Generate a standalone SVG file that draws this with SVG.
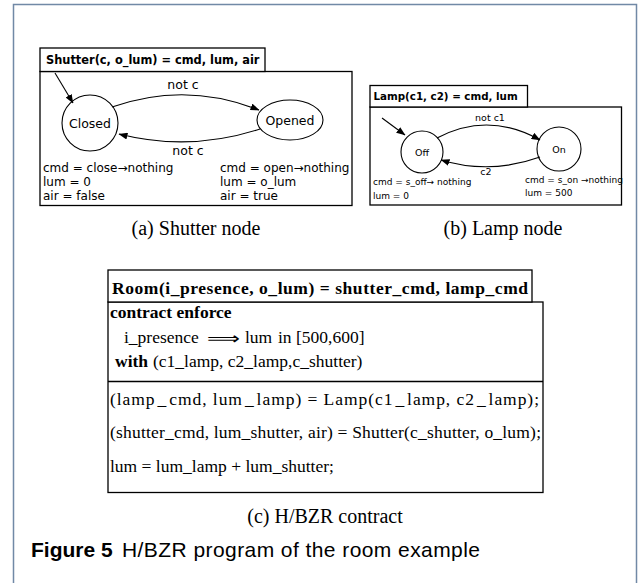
<svg xmlns="http://www.w3.org/2000/svg" width="638" height="583" viewBox="0 0 638 583">
<defs>
<marker id="ah" markerWidth="9" markerHeight="7" refX="8.5" refY="3.5" orient="auto" markerUnits="userSpaceOnUse">
<path d="M0,0 L9,3.5 L0,7 z" fill="#000"/>
</marker>
<style>
.frame{fill:none;stroke:#7189a6;stroke-width:1.5}
.box{fill:#fff;stroke:#000;stroke-width:1.3}
.st{fill:#fff;stroke:#000;stroke-width:1.1}
.edge{fill:none;stroke:#000;stroke-width:1.1;marker-end:url(#ah)}
.sans{font-family:"DejaVu Sans","Liberation Sans",sans-serif;fill:#000}
.sb{font-family:"DejaVu Sans","Liberation Sans",sans-serif;font-weight:bold;fill:#000}
.serif{font-family:"Liberation Serif","Times New Roman",serif;fill:#000;font-size:17.5px}
.cap{font-family:"Liberation Serif","Times New Roman",serif;fill:#000;font-size:20px}
.fig{font-family:"Liberation Sans",Arial,sans-serif;fill:#000;font-size:21px}
</style>
</defs>
<rect class="frame" x="13.5" y="4.5" width="623" height="600"/>

<g id="shutter-node">
<rect class="box" x="40" y="71.5" width="312" height="134"/>
<rect class="box" x="40" y="48" width="225" height="23.5"/>
<text class="sb" x="46" y="64" font-size="11.4">Shutter(c, o_lum) = cmd, lum, air</text>
</g>
<g id="shutter-closed">
<circle class="st" cx="90" cy="123" r="28"/>
<text class="sans" x="90" y="128" font-size="12.5" text-anchor="middle">Closed</text>
</g>
<g id="shutter-opened">
<ellipse class="st" cx="290" cy="120" rx="33" ry="20"/>
<text class="sans" x="290" y="125" font-size="12.5" text-anchor="middle">Opened</text>
</g>
<g id="shutter-labels">
<text class="sans" x="183" y="89" font-size="12.5" text-anchor="middle">not c</text>
<text class="sans" x="188" y="155" font-size="12.5" text-anchor="middle">not c</text>
<text class="sans" x="43" y="172" font-size="12">cmd = close→nothing</text>
<text class="sans" x="43" y="186" font-size="12">lum = 0</text>
<text class="sans" x="43" y="200" font-size="12">air = false</text>
<text class="sans" x="220" y="172" font-size="12">cmd = open→nothing</text>
<text class="sans" x="220" y="186" font-size="12">lum = o_lum</text>
<text class="sans" x="220" y="200" font-size="12">air = true</text>
</g>

<g id="lamp-node">
<rect class="box" x="370" y="107" width="251.5" height="98"/>
<rect class="box" x="370" y="85.5" width="157.5" height="21.5"/>
<text class="sb" x="373.5" y="100" font-size="10.3">Lamp(c1, c2) = cmd, lum</text>
</g>
<g id="lamp-off">
<circle class="st" cx="422" cy="152" r="21"/>
<text class="sans" x="422" y="156" font-size="9.5" text-anchor="middle">Off</text>
</g>
<g id="lamp-on">
<circle class="st" cx="559" cy="149" r="22"/>
<text class="sans" x="559" y="153" font-size="9.5" text-anchor="middle">On</text>
</g>
<g id="lamp-labels">
<text class="sans" x="490" y="121" font-size="9.5" text-anchor="middle">not c1</text>
<text class="sans" x="486" y="175" font-size="9.5" text-anchor="middle">c2</text>
<text class="sans" x="373" y="185" font-size="9">cmd = s_off→ nothing</text>
<text class="sans" x="373" y="199" font-size="9">lum = 0</text>
<text class="sans" x="525" y="183" font-size="9">cmd = s_on →nothing</text>
<text class="sans" x="525" y="196" font-size="9">lum = 500</text>
</g>

<g id="connectors">
<path class="edge" d="M55,73 L73,103"/>
<path class="edge" d="M112,107 Q186,81 259,110"/>
<path class="edge" d="M260,129 Q190,152 119,134"/>
<path class="edge" d="M382,118 L405,135"/>
<path class="edge" d="M437,138 Q488,111 540,140"/>
<path class="edge" d="M540,157 Q490,175 441,160"/>
</g>

<g id="captions-ab">
<text class="cap" x="196" y="235" text-anchor="middle">(a) Shutter node</text>
<text class="cap" x="503" y="235" text-anchor="middle">(b) Lamp node</text>
</g>

<g id="room-contract">
<rect class="box" x="108" y="302" width="435" height="190.5"/>
<line x1="108" y1="381.5" x2="543" y2="381.5" stroke="#000" stroke-width="1.3"/>
<rect class="box" x="108" y="270" width="424" height="32"/>
<text class="serif" x="112" y="294" font-size="18" font-weight="bold" textLength="416" lengthAdjust="spacing">Room(i_presence, o_lum) = shutter_cmd, lamp_cmd</text>
<text class="serif" x="110" y="318" font-weight="bold">contract enforce</text>
<text class="serif" x="124" y="343">i_presence</text>
<text x="207" y="344" font-size="17" font-family="DejaVu Sans, sans-serif" textLength="33" lengthAdjust="spacingAndGlyphs">⟹</text>
<text class="serif" x="245" y="343">lum</text>
<text class="serif" x="278" y="343">in [500,600]</text>
<text class="serif" x="115" y="367" font-weight="bold">with</text>
<text class="serif" x="153" y="367">(c1_lamp, c2_lamp,c_shutter)</text>
<text class="serif" x="110" y="405" textLength="429" lengthAdjust="spacing">(lamp<tspan dx="2">_</tspan><tspan dx="2">cmd,</tspan> lum<tspan dx="2">_</tspan><tspan dx="2">lamp)</tspan> = Lamp(c1<tspan dx="2">_</tspan><tspan dx="2">lamp,</tspan> c2<tspan dx="2">_</tspan><tspan dx="2">lamp);</tspan></text>
<text class="serif" x="110" y="438" textLength="431" lengthAdjust="spacing">(shutter_cmd, lum_shutter, air) = Shutter(c_shutter, o_lum);</text>
<text class="serif" x="110" y="472">lum = lum_lamp + lum_shutter;</text>
</g>

<g id="captions">
<text class="cap" x="325" y="523" text-anchor="middle">(c) H/BZR contract</text>
<text class="fig" x="31" y="557" font-size="19.5" font-weight="bold">Figure 5</text>
<text class="fig" x="122" y="557" textLength="358" lengthAdjust="spacing">H/BZR program of the room example</text>
</g>
</svg>
